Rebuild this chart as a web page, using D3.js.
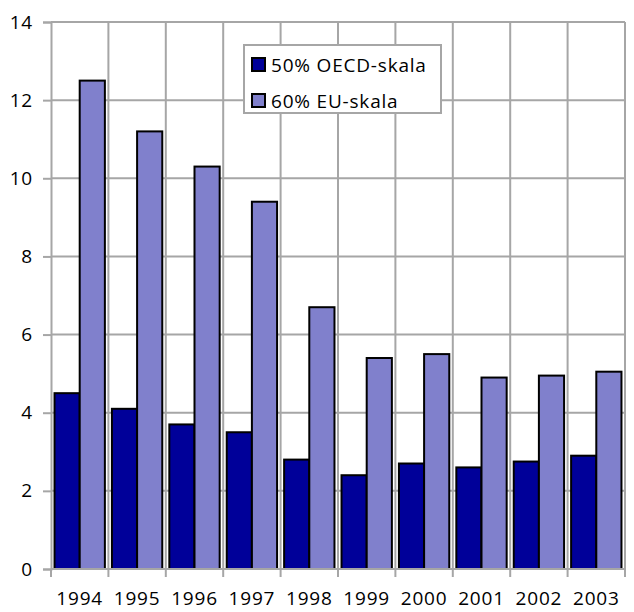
<!DOCTYPE html>
<html>
  <head>
    <meta charset="utf-8">
    <title>OECD / EU skala 1994-2003</title>
    <script src="https://d3js.org/d3.v7.min.js"></script>
    <style>
      body { margin: 0; background: #fff; }
      text { font-family: "Open Sans", "Noto Sans", sans-serif; fill: #000; letter-spacing: 0.8px; }
    </style>
  </head>
  <body>
    <div id="chart"></div>
    <script>
      var years = ["1994", "1995", "1996", "1997", "1998", "1999", "2000", "2001", "2002", "2003"];
      var seriesNames = ["50% OECD-skala", "60% EU-skala"];
      var oecd = [4.5, 4.1, 3.7, 3.5, 2.8, 2.4, 2.7, 2.6, 2.75, 2.9];
      var eu = [12.5, 11.2, 10.3, 9.4, 6.7, 5.4, 5.5, 4.9, 4.95, 5.05];
      var yTicks = [0, 2, 4, 6, 8, 10, 12, 14];
      var colors = ["#000099", "#8080cc"];

      var width = 634, height = 612;
      var margin = {top: 22, right: 9, bottom: 43, left: 51};
      var w = width - margin.left - margin.right,
          h = height - margin.top - margin.bottom;

      var svg = d3.select("#chart").append("svg")
          .attr("width", width)
          .attr("height", height);

      var g = svg.append("g")
          .attr("transform", "translate(" + margin.left + "," + margin.top + ")");

      var x = d3.scaleBand().domain(years).range([0, w]).paddingInner(0).paddingOuter(0);
      var y = d3.scaleLinear().domain([0, 14]).range([h, 0]);
      var x1 = d3.scaleBand().domain([0, 1]).range([0, x.bandwidth()]).paddingOuter(0.14).paddingInner(0);

      // horizontal gridlines
      g.append("g").selectAll("line")
        .data(yTicks.slice(1))
        .enter().append("line")
          .attr("x1", 0).attr("x2", w)
          .attr("y1", (d) => y(d)).attr("y2", (d) => y(d))
          .attr("stroke", "#a6a6a6").attr("stroke-width", 2);

      // vertical gridlines at category boundaries
      g.append("g").selectAll("line")
        .data(d3.range(1, years.length + 1))
        .enter().append("line")
          .attr("x1", (i) => i * x.step())
          .attr("x2", (i) => i * x.step())
          .attr("y1", 0).attr("y2", h)
          .attr("stroke", "#a6a6a6").attr("stroke-width", 2);

      var data = years.map((yr, i) => ({year: yr, values: [oecd[i], eu[i]]}));

      var groups = g.append("g").selectAll("g")
        .data(data)
        .enter().append("g")
          .attr("transform", (d) => "translate(" + x(d.year) + ",0)");

      groups.selectAll("rect")
        .data((d) => d.values.map((v, k) => ({k: k, v: v})))
        .enter().append("rect")
          .attr("x", (d) => x1(d.k))
          .attr("width", x1.bandwidth())
          .attr("y", (d) => y(d.v))
          .attr("height", (d) => h - y(d.v))
          .attr("fill", (d) => colors[d.k])
          .attr("stroke", "#000")
          .attr("stroke-width", 2);

      // axes
      var yAxis = g.append("g")
        .call(d3.axisLeft(y).tickValues(yTicks).tickSize(8).tickPadding(10));
      yAxis.select(".domain").attr("stroke", "#a6a6a6").attr("stroke-width", 2);
      yAxis.selectAll(".tick line").attr("stroke", "#a6a6a6").attr("stroke-width", 2);
      yAxis.selectAll("text").style("font-size", "19px").attr("fill", "#000");

      var bottom = g.append("g").attr("transform", "translate(0," + h + ")");
      bottom.append("line")
        .attr("x1", 0).attr("x2", w).attr("y1", 0).attr("y2", 0)
        .attr("stroke", "#a6a6a6").attr("stroke-width", 2);
      bottom.selectAll(".tk")
        .data(d3.range(years.length + 1))
        .enter().append("line")
          .attr("x1", (i) => i * x.step()).attr("x2", (i) => i * x.step())
          .attr("y1", 0).attr("y2", 8)
          .attr("stroke", "#a6a6a6").attr("stroke-width", 2);
      bottom.selectAll("text")
        .data(years)
        .enter().append("text")
          .attr("x", (d) => x(d) + x.bandwidth() / 2)
          .attr("y", 36)
          .attr("text-anchor", "middle")
          .style("font-size", "19px")
          .text((d) => d);

      // legend
      var legend = svg.append("g").attr("transform", "translate(244,45)");
      legend.append("rect")
        .attr("width", 197).attr("height", 68)
        .attr("fill", "#fff").attr("stroke", "#a6a6a6").attr("stroke-width", 2);
      seriesNames.forEach((name, i) => {
        var row = legend.append("g").attr("transform", "translate(8," + (13 + i * 36) + ")");
        row.append("rect")
          .attr("width", 13).attr("height", 13)
          .attr("fill", colors[i]).attr("stroke", "#000").attr("stroke-width", 2);
        row.append("text")
          .attr("x", 19).attr("y", 14)
          .style("font-size", "19px")
          .text(name);
      });
    </script>
  </body>
</html>
